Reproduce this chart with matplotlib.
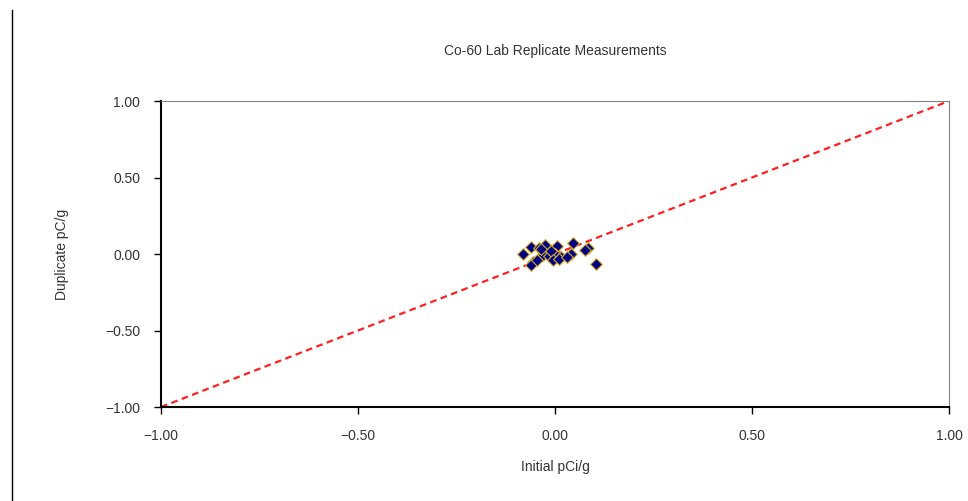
import matplotlib.pyplot as plt
from matplotlib.lines import Line2D

plt.rcParams['font.family'] = ['Liberation Sans', 'DejaVu Sans']

# Replicate measurements (pCi/g)
initial = [-0.08, -0.06, -0.04, -0.025, 0.005, 0.045, 0.085, 0.075, -0.03, -0.015,
           0.0, 0.015, -0.01, -0.055, -0.06, -0.045, -0.005, 0.01, 0.04, 0.03, 0.105, -0.035]
duplicate = [0.0, 0.045, 0.04, 0.06, 0.05, 0.07, 0.04, 0.025, -0.005, -0.015,
             0.0, -0.02, 0.02, -0.05, -0.075, -0.04, -0.04, -0.03, 0.0, -0.02, -0.065, 0.03]
line_x = [-1.0, 1.0]
line_y = [-1.0, 1.0]
ticks = [-1.0, -0.5, 0.0, 0.5, 1.0]
tick_labels = ['\u22121.00', '\u22120.50', '0.00', '0.50', '1.00']

fig = plt.figure(figsize=(9.68, 5.01), dpi=100)
ax = fig.add_axes([0.1663, 0.1876, 0.8141, 0.6108])

ax.plot(line_x, line_y, '--', color='#ff2020', linewidth=1.6, dashes=(3, 2), zorder=2)
ax.scatter(initial, duplicate, marker='D', s=36, color='#000080',
           edgecolors='#d4b030', linewidths=0.8, zorder=3)

ax.set_xlim(-1, 1)
ax.set_ylim(-1, 1)
ax.set_xticks(ticks)
ax.set_xticklabels(tick_labels)
ax.set_yticks(ticks)
ax.set_yticklabels(tick_labels)
ax.tick_params(direction='out', length=5, width=1, colors='black',
               labelsize=10, labelcolor='#333333')
ax.tick_params(axis='x', pad=11)
ax.tick_params(axis='y', pad=10)

for side in ['top', 'right']:
    ax.spines[side].set_color('#808080')
for side in ['left', 'bottom']:
    ax.spines[side].set_color('black')
    ax.spines[side].set_linewidth(1.5)

ax.set_title('Co-60 Lab Replicate Measurements', fontsize=10, color='#333333', pad=33)
ax.set_xlabel('Initial pCi/g', fontsize=10, color='#333333', labelpad=12)
ax.set_ylabel('Duplicate pC/g', fontsize=10, color='#333333', labelpad=26)

# page border on the left
fig.add_artist(Line2D([12 / 968, 12 / 968], [0, 1 - 10 / 501],
                      transform=fig.transFigure, color='black', linewidth=1))

fig.savefig('out.png', dpi=100)
